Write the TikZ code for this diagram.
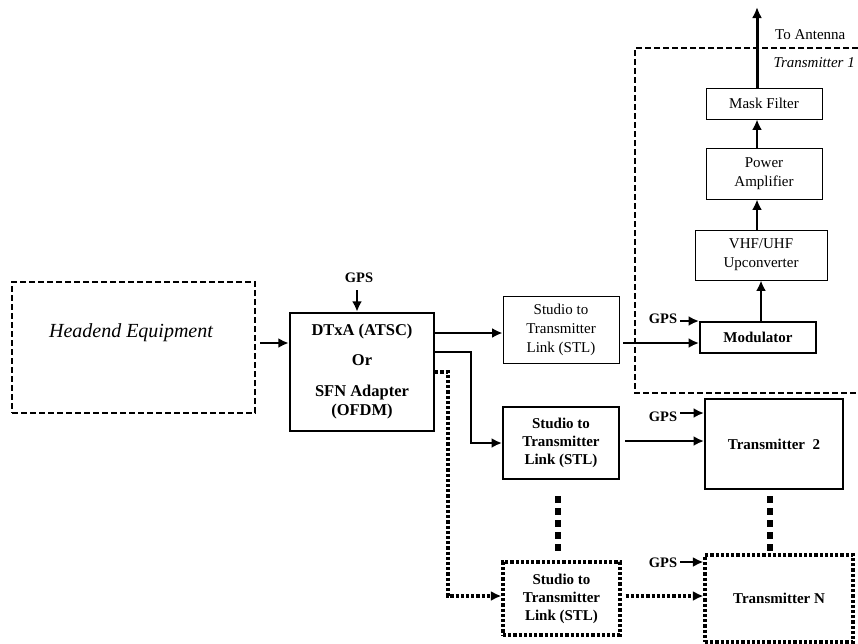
\documentclass[tikz,border=0pt]{standalone}
\usepackage{fontspec}
\setmainfont{Liberation Serif}
\usetikzlibrary{arrows.meta,calc}
\tikzset{
  box/.style={draw, line width=2pt, inner sep=0pt, align=center, font=\fontsize{15}{18}\selectfont\bfseries},
  thinbox/.style={draw, line width=0.9pt, inner sep=0pt, align=center, font=\fontsize{15}{19}\selectfont},
  dotbox/.style={draw, line width=3.2pt, dash pattern=on 3.2pt off 2pt, inner sep=0pt, align=center, font=\fontsize{15}{18}\selectfont\bfseries},
  dashbox/.style={draw, line width=2pt, dash pattern=on 6pt off 3pt, inner sep=0pt},
  lbl/.style={inner sep=0pt, font=\fontsize{14.5}{17}\selectfont\bfseries},
  plain/.style={inner sep=0pt, font=\fontsize{15}{18}\selectfont},
  arr/.style={-{Latex[length=10.5pt,width=10pt]}, line width=2.2pt},
  dotarr/.style={-{Latex[length=10.5pt,width=10pt]}, line width=3.2pt, dash pattern=on 3.2pt off 2pt},
  bigdash/.style={line width=6.5pt, dash pattern=on 7pt off 5pt}
}
\begin{document}
\begin{tikzpicture}[x=1pt,y=-1pt]
\path[use as bounding box] (0,0) rectangle (858,643);

% Transmitter 1 region (right side open, beyond the picture)
\draw[line width=2pt, dash pattern=on 6pt off 3pt] (858,48) -- (635,48) -- (635,393) -- (858,393);
\node[plain, anchor=east, font=\fontsize{15}{18}\selectfont\itshape] (t1lbl) at (855,63) {Transmitter 1};
\node[plain, anchor=west] (antlbl) at (775,35) {To Antenna};

% Headend
\node[dashbox, minimum width=243pt, minimum height=131pt] (head) at (133.5,347.5) {};
\node[inner sep=0pt, font=\fontsize{20}{24}\selectfont\itshape] (headtxt) at (131,333) {Headend Equipment};

% DTxA
\node[box, line width=2.5pt, minimum width=144pt, minimum height=118pt, font=\fontsize{16.5}{19}\selectfont\bfseries] (dtxa) at (362,372)
  {DTxA (ATSC)\\[11pt]Or\\[12pt]SFN Adapter\\(OFDM)};
\node[lbl] (gps0) at (359,278) {GPS};

% STLs
\node[thinbox, minimum width=116pt, minimum height=67pt] (stl1) at (561,329.5) {Studio to\\Transmitter\\Link (STL)};
\node[box, minimum width=116pt, minimum height=72pt] (stl2) at (561,443) {Studio to\\Transmitter\\Link (STL)};
\node[dotbox, minimum width=117pt, minimum height=73pt] (stl3) at (561.5,598.5) {Studio to\\Transmitter\\Link (STL)};

% Transmitter chain 1
\node[box, minimum width=116pt, minimum height=31pt] (mod) at (758,337.5) {Modulator};
\node[thinbox, minimum width=132pt, minimum height=50pt, font=\fontsize{15}{19}\selectfont] (vhf) at (761,255) {VHF/UHF\\Upconverter};
\node[thinbox, minimum width=116pt, minimum height=51pt] (pa) at (764,173.5) {Power\\Amplifier};
\node[thinbox, minimum width=116pt, minimum height=31pt] (mask) at (764,103.5) {Mask Filter};
\coordinate (ant) at (757,7);

% Transmitters 2 and N
\node[box, minimum width=138pt, minimum height=90pt] (t2) at (774,444) {Transmitter~~2};
\node[dotbox, minimum width=148pt, minimum height=87pt] (tn) at (779,598.5) {Transmitter N};

% GPS labels
\node[lbl] (gps1) at (663,319) {GPS};
\node[lbl] (gps2) at (663,417) {GPS};
\node[lbl] (gps3) at (663,563) {GPS};

% Connectors
\draw[arr] ([yshift=-7pt]gps0.south -| 357,0) -- (dtxa.north -| 357,0);
\draw[arr, shorten <=4pt] (head.east |- 0,343) -- (dtxa.west |- 0,343);
\draw[arr] (dtxa.east |- 0,333) -- (stl1.west |- 0,333);
\draw[arr] (dtxa.east |- 0,352) -- (471,352) -- (471,443) -- (stl2.west |- 0,443);
\draw[dotarr] (dtxa.east |- 0,372) -- (448,372) -- (448,596) -- (stl3.west |- 0,596);
\draw[arr, shorten <=4pt] (stl1.east |- 0,343) -- (mod.west |- 0,343);
\draw[arr, shorten <=5pt] (stl2.east |- 0,441) -- (t2.west |- 0,441);
\draw[dotarr, shorten <=4pt] (stl3.east |- 0,596) -- (tn.west |- 0,596);

\draw[arr, shorten <=3pt] (gps1.east |- 0,321) -- (mod.west |- 0,321);
\draw[arr, shorten <=3pt] (gps2.east |- 0,413) -- (t2.west |- 0,413);
\draw[arr, shorten <=3pt] (gps3.east |- 0,562) -- (tn.west |- 0,562);

\draw[arr] (mod.north -| 761,0) -- (vhf.south -| 761,0);
\draw[arr] (vhf.north -| 757,0) -- (pa.south -| 757,0);
\draw[arr] (pa.north -| 757,0) -- (mask.south -| 757,0);
\draw[-{Latex[length=11pt,width=10pt]}, line width=3pt] (mask.north -| 757,0) -- (ant);

\draw[bigdash, shorten <=16pt, shorten >=7pt] (stl2.south -| 558,0) -- (stl3.north -| 558,0);
\draw[bigdash, shorten <=6pt] (t2.south -| 770,0) -- (tn.north -| 770,0);
\end{tikzpicture}
\end{document}
